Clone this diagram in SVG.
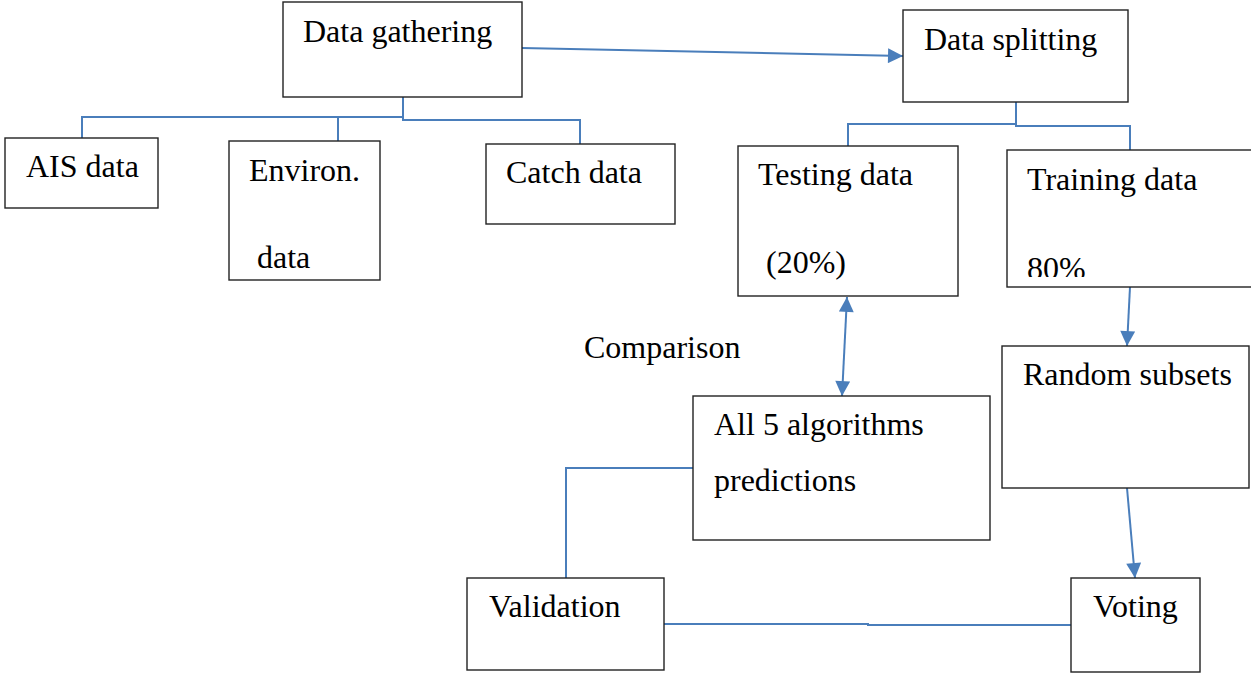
<svg xmlns="http://www.w3.org/2000/svg" width="1251" height="673" viewBox="0 0 1251 673">
<style>
.box{fill:#fff;stroke:#222;stroke-width:1.4}
.t{font-family:"Liberation Serif","Times New Roman",serif;font-size:32px;fill:#000}
.c{fill:none;stroke:#4a7ebb;stroke-width:2}
</style>
<defs>
<marker id="ah" viewBox="0 0 10 10" refX="10" refY="5" markerWidth="16" markerHeight="15" markerUnits="userSpaceOnUse" orient="auto-start-reverse">
<path d="M0,0 L10,5 L0,10 z" fill="#4a7ebb"/>
</marker>
<clipPath id="clipTrain"><rect x="1007" y="150" width="244" height="127"/></clipPath>
</defs>
<rect width="1251" height="673" fill="#fff"/>
<g id="connectors">
<path class="c" d="M403,97 V117 H82 V138"/>
<path class="c" d="M403,117 V120 H580 V144"/>
<path class="c" d="M338,117 V141"/>
<path class="c" d="M522,48 L903,56" marker-end="url(#ah)"/>
<path class="c" d="M1016,102 V124 H848 V146"/>
<path class="c" d="M1016,124 V126 H1130 V150"/>
<path class="c" d="M842,396 L847,297" marker-start="url(#ah)" marker-end="url(#ah)"/>
<path class="c" d="M1130,287 L1127,346" marker-end="url(#ah)"/>
<path class="c" d="M1127,488 L1135,578" marker-end="url(#ah)"/>
<path class="c" d="M693,468 H566 V578"/>
<path class="c" d="M664,624 H868 V625 H1071"/>
</g>
<g id="data-gathering"><rect class="box" x="283" y="2" width="239" height="95"/><text class="t" x="303" y="42">Data gathering</text></g>
<g id="ais-data"><rect class="box" x="5" y="138" width="153" height="70"/><text class="t" x="26" y="177">AIS data</text></g>
<g id="environ-data"><rect class="box" x="229" y="141" width="151" height="139"/><text class="t" x="249" y="181">Environ.</text><text class="t" x="257" y="268">data</text></g>
<g id="catch-data"><rect class="box" x="486" y="144" width="189" height="80"/><text class="t" x="506" y="183">Catch data</text></g>
<g id="data-splitting"><rect class="box" x="903" y="10" width="225" height="92"/><text class="t" x="924" y="50">Data splitting</text></g>
<g id="testing-data"><rect class="box" x="738" y="146" width="220" height="150"/><text class="t" x="758" y="185">Testing data</text><text class="t" x="766" y="273">(20%)</text></g>
<g id="training-data"><rect class="box" x="1007" y="150" width="260" height="137"/><text class="t" x="1027" y="190">Training data</text><text class="t" x="1027" y="279" clip-path="url(#clipTrain)">80%</text></g>
<g id="comparison-label"><text class="t" x="584" y="358">Comparison</text></g>
<g id="random-subsets"><rect class="box" x="1002" y="346" width="247" height="142"/><text class="t" x="1023" y="385">Random subsets</text></g>
<g id="all-algorithms"><rect class="box" x="693" y="396" width="297" height="144"/><text class="t" x="714" y="435">All 5 algorithms</text><text class="t" x="714" y="491">predictions</text></g>
<g id="validation"><rect class="box" x="467" y="578" width="197" height="92"/><text class="t" x="489" y="617">Validation</text></g>
<g id="voting"><rect class="box" x="1071" y="578" width="129" height="94"/><text class="t" x="1093" y="617">Voting</text></g>
</svg>
